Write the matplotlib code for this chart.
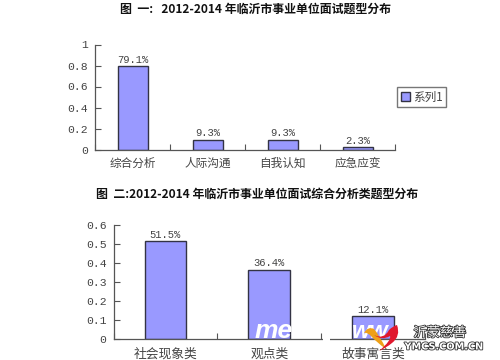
import matplotlib
matplotlib.use("Agg")
import matplotlib.pyplot as plt
import matplotlib.patheffects as pe
from matplotlib.patches import PathPatch, Rectangle
from matplotlib.path import Path

plt.rcParams["font.family"] = ["Noto Sans CJK SC", "DejaVu Sans"]

# Data
title1 = "图  一:   2012-2014 年临沂市事业单位面试题型分布"
cats1 = ["综合分析", "人际沟通", "自我认知", "应急应变"]
vals1 = [0.791, 0.093, 0.093, 0.023]
labels1 = ["79.1%", "9.3%", "9.3%", "2.3%"]
ticks1 = [0, 0.2, 0.4, 0.6, 0.8, 1]
ticklabels1 = ["0", "0.2", "0.4", "0.6", "0.8", "1"]

title2 = "图  二:2012-2014 年临沂市事业单位面试综合分析类题型分布"
cats2 = ["社会现象类", "观点类", "故事寓言类"]
vals2 = [0.515, 0.364, 0.121]
labels2 = ["51.5%", "36.4%", "12.1%"]
ticks2 = [0, 0.1, 0.2, 0.3, 0.4, 0.5, 0.6]
ticklabels2 = ["0", "0.1", "0.2", "0.3", "0.4", "0.5", "0.6"]

series_name = "系列1"
W, H = 500, 360
TEXT = "#444444"
BAR = "#9999ff"
EDGE = "#333344"


def px_axes(fig, left, top, right, bottom):
    return fig.add_axes([left / W, 1 - bottom / H, (right - left) / W, (bottom - top) / H])


def bar_panel(ax, cats, vals, labels, ticks, ticklabels, cat_size, cat_pad):
    xs = list(range(len(cats)))
    ax.bar(xs, vals, width=0.4, color=BAR, edgecolor=EDGE, linewidth=1.0, label=series_name, zorder=2)
    ax.set_xlim(-0.5, len(cats) - 0.5)
    ax.set_ylim(ticks[0], ticks[-1])
    for s in ["top", "right"]:
        ax.spines[s].set_visible(False)
    for s in ["left", "bottom"]:
        ax.spines[s].set_color("#555555")
        ax.spines[s].set_linewidth(0.9)
    ax.set_yticks(ticks)
    ax.set_yticklabels(ticklabels, family="Liberation Mono", fontsize=8.2, color=TEXT)
    ax.tick_params(axis="y", direction="in", length=4, width=0.8, color="#555555", pad=5)
    # ticks sit between categories, labels under the bars
    ax.set_xticks([i - 0.5 for i in range(len(cats) + 1)])
    ax.set_xticklabels([])
    ax.tick_params(axis="x", direction="in", length=4, width=0.8, color="#555555")
    ax.set_xticks(xs, minor=True)
    ax.set_xticklabels(cats, minor=True, fontsize=cat_size, color=TEXT)
    ax.tick_params(axis="x", which="minor", length=0, pad=cat_pad)
    for x, v, t in zip(xs, vals, labels):
        ax.annotate(t, (x, v), xytext=(0, 1), textcoords="offset points", ha="center", va="bottom",
                    family="Liberation Mono", fontsize=7.6, color=TEXT)


fig = plt.figure(figsize=(5, 3.6), dpi=100, facecolor="white")

ax1 = px_axes(fig, 95, 44.5, 395, 149.5)
bar_panel(ax1, cats1, vals1, labels1, ticks1, ticklabels1, 8.4, 5.5)
leg = ax1.legend(loc="center left", bbox_to_anchor=(1.0, 0.5), frameon=True, fancybox=False,
                 fontsize=8.4, handlelength=0.75, handleheight=0.75, handletextpad=0.3,
                 borderpad=0.3, borderaxespad=0.2, labelcolor=TEXT)
leg.get_frame().set_edgecolor("#555555")
leg.get_frame().set_linewidth(1.0)

ax2 = px_axes(fig, 113.5, 225, 425, 339)
bar_panel(ax2, cats2, vals2, labels2, ticks2, ticklabels2, 9.2, 6.5)

fig.text(256 / W, 1 - 9.5 / H, title1, ha="center", va="center", fontsize=8.6, fontweight="bold", color="#111111")
fig.text(257 / W, 1 - 194 / H, title2, ha="center", va="center", fontsize=8.6, fontweight="bold", color="#111111")

# Site watermark over the second chart
fig.add_artist(Rectangle((323 / W, 1 - 341 / H), 7 / W, 5 / H, transform=fig.transFigure,
                         facecolor="white", edgecolor="none", zorder=5))
fig.text(255 / W, 1 - 338 / H, "me", fontsize=19, fontweight="bold", style="italic", color="white",
         family="Liberation Sans", ha="left", va="baseline", zorder=6)
fig.text(352 / W, 1 - 338 / H, "ww", fontsize=17, fontweight="bold", style="italic", color="white",
         family="Liberation Sans", ha="left", va="baseline", zorder=6)


def logo_shape(points, color):
    verts = [(x / W, 1 - y / H) for x, y in points]
    codes = [Path.MOVETO] + [Path.CURVE3] * (len(verts) - 1)
    fig.add_artist(PathPatch(Path(verts, codes), transform=fig.transFigure, facecolor=color,
                             edgecolor="none", zorder=7))


logo_shape([(364, 333), (368, 326), (374, 329), (380, 336), (386, 349), (376, 342), (371, 336), (367, 332), (364, 333)],
           "#eea018")
logo_shape([(374, 335), (384, 340), (389, 330), (393, 326), (397, 325), (401, 336), (392, 343), (386, 348), (379, 351),
            (392, 340), (390, 336), (382, 341), (374, 335)], "#e0182d")

outline = [pe.withStroke(linewidth=1.2, foreground="#333333")]
fig.text(440 / W, 1 - 333 / H, "沂蒙慈善", fontsize=9.5, color="white", ha="center", va="center", zorder=7,
         path_effects=outline)
fig.text(444 / W, 1 - 346.5 / H, "YMCS.COM.CN", fontsize=7, fontweight="bold", color="white", ha="center",
         va="center", zorder=7, family="DejaVu Sans", path_effects=outline)

fig.savefig("out.png", dpi=100)
